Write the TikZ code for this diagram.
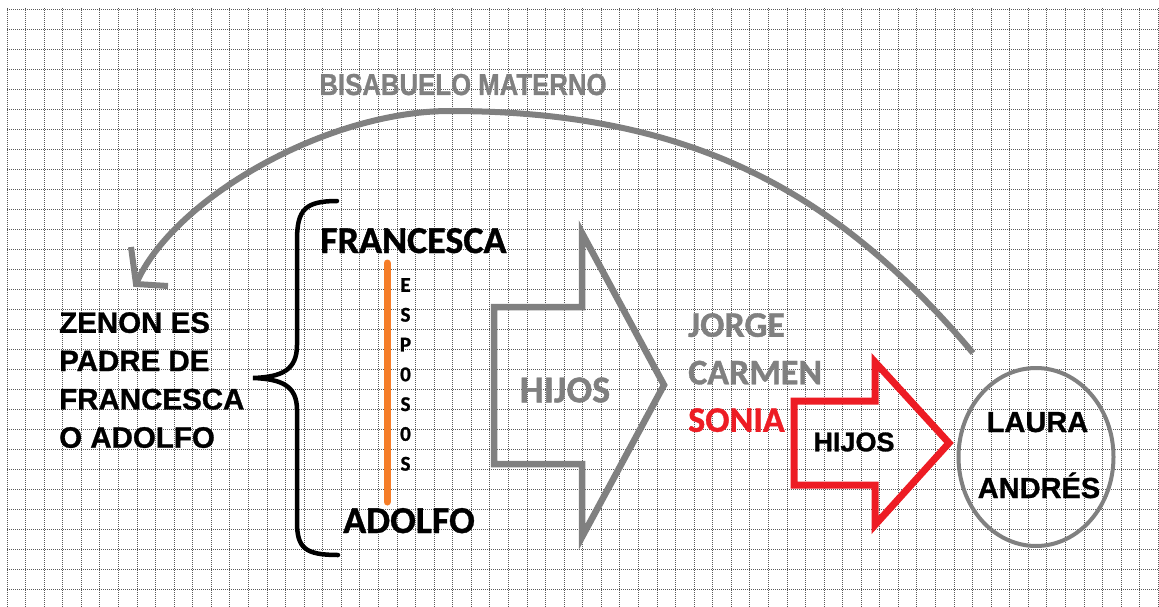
\documentclass[tikz,border=0pt]{standalone}
\usepackage{fontspec}
\usepackage{graphicx}
\newfontfamily\arialf{Liberation Sans}[BoldFeatures={FakeBold=1}]
\newfontfamily\califf{Carlito}[BoldFeatures={FakeBold=1}]
\usetikzlibrary{shapes.geometric}
\definecolor{mygray}{RGB}{128,128,128}
\definecolor{myred}{RGB}{237,28,36}
\definecolor{myorange}{RGB}{245,125,40}
\definecolor{gridc}{RGB}{90,90,90}
\begin{document}
\begin{tikzpicture}[x=1pt,y=-1pt,
  gridline/.style={draw=gridc, line width=0.9pt, dash pattern=on 1pt off 1pt},
  arcline/.style={draw=mygray, line width=6pt, line join=miter},
  braceline/.style={draw=black, line width=4.5pt, line cap=round},
  grayblock/.style={draw=mygray, line width=6.5pt, line join=miter},
  redblock/.style={draw=myred, line width=7pt, line join=miter},
  orangeline/.style={draw=myorange, line width=7pt, line cap=round},
  ariallbl/.style={inner sep=0pt, font=\arialf\bfseries},
  callbl/.style={inner sep=0pt, font=\califf\bfseries}]
\useasboundingbox (0,0) rectangle (1159,607);
\fill[white] (0,0) rectangle (1159,607);
% grid
\foreach \i in {0,...,62} \draw[gridline] ({7+18.57*\i},8) -- ({7+18.57*\i},607);
\foreach \j in {0,...,29} \draw[gridline] (7,{9.3+20*\j}) -- (1159,{9.3+20*\j});

% top title
\node[ariallbl, text=mygray, anchor=base, font=\arialf\bfseries\fontsize{28}{32}\selectfont] (title) at (463,95) {\scalebox{0.92}[1.08]{BISABUELO MATERNO}};

% big arc arrow
\coordinate (arcS) at (973,353);
\coordinate (arcT) at (450,111);
\coordinate (arcE) at (136,284);
\draw[arcline] (arcS) .. controls (843,199) and (700,111) .. (arcT) .. controls (325,111) and (172,200) .. (arcE);
\draw[arcline] ([shift={(-5,-37)}]arcE) -- (arcE) -- ([shift={(32,2)}]arcE);

% left text
\node[ariallbl, anchor=north west, align=left, font=\arialf\bfseries\fontsize{29.5}{38.3}\selectfont] (zenon) at (59,312) {ZENON ES\\PADRE DE\\FRANCESCA\\O ADOLFO};

% brace
\draw[braceline] (337,201) .. controls (305,201) and (297,210) .. (297,240) -- (297,345)
  .. controls (297,370) and (282,377) .. (253,378)
  .. controls (282,379) and (297,386) .. (297,410) -- (297,522)
  .. controls (297,548) and (305,555) .. (338,555);

% spouses
\node[callbl, anchor=base west, font=\califf\bfseries\fontsize{38}{45}\selectfont] (francesca) at (320,253) {FRANCESCA};
\node[callbl, anchor=base west, font=\califf\bfseries\fontsize{38}{45}\selectfont] (adolfo) at (343,533) {ADOLFO};
\coordinate (orTop) at (387,263);
\coordinate (orBot) at (387,502);
\draw[orangeline] (orTop) -- (orBot);
\node[callbl, anchor=north, align=center, font=\califf\bfseries\fontsize{21}{29.8}\selectfont] (esposos) at (405.5,278) {E\\S\\P\\0\\S\\0\\S};

% gray block arrow
\draw[grayblock] (494,307) -- (582,307) -- (582,233) -- (664,385) -- (582,537) -- (582,464) -- (494,464) -- cycle;
\node[callbl, text=mygray, font=\califf\bfseries\fontsize{38}{45}\selectfont] (hijos1) at (565,390) {HIJOS};

% children
\node[callbl, anchor=north west, align=left, font=\califf\bfseries\fontsize{36}{47.5}\selectfont] (kids) at (688,313)
  {\textcolor{mygray}{JORGE}\\\textcolor{mygray}{CARMEN}\\\textcolor{myred}{SONIA}};

% red block arrow
\draw[redblock] (794,401) -- (875,401) -- (875,362) -- (949,443) -- (875,525) -- (875,485) -- (794,485) -- cycle;
\node[ariallbl, font=\arialf\bfseries\fontsize{27}{32}\selectfont] (hijos2) at (854,442) {HIJOS};

% grandchildren circle
\node[draw=mygray, line width=4pt, ellipse, minimum width=155pt, minimum height=178pt, inner sep=0pt] (circ) at (1036,457) {};
\node[ariallbl, anchor=base, font=\arialf\bfseries\fontsize{29}{34}\selectfont] (laura) at (1037.5,432) {LAURA};
\node[ariallbl, anchor=base, font=\arialf\bfseries\fontsize{29}{34}\selectfont] (andres) at (1039,498) {ANDRÉS};
\end{tikzpicture}
\end{document}
